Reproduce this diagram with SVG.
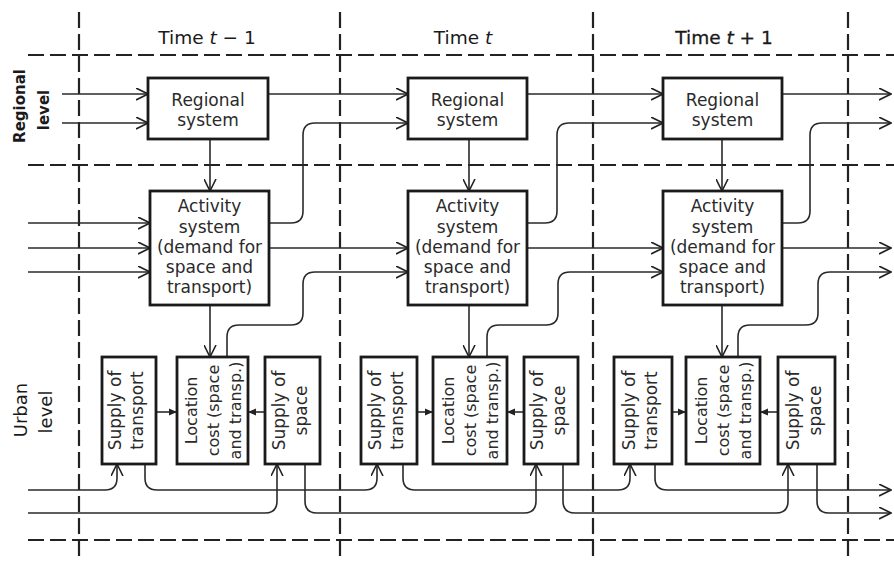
<svg xmlns="http://www.w3.org/2000/svg" width="894" height="562" viewBox="0 0 894 562">
<defs>
<style>
.grid{stroke:#222;stroke-width:2.2;stroke-dasharray:16 6;fill:none}
.box{fill:#fff;stroke:#1a1a1a;stroke-width:2.8}
.c{fill:none;stroke:#2a2a2a;stroke-width:1.6;marker-end:url(#ah)}
.cs{fill:none;stroke:#2a2a2a;stroke-width:1.6;marker-end:url(#as)}
.t{font-family:"DejaVu Sans","Liberation Sans",sans-serif;font-size:17px;fill:#2a2a2a;text-anchor:middle}
.u{font-family:"DejaVu Sans","Liberation Sans",sans-serif;font-size:17px;fill:#2a2a2a;text-anchor:middle}
.l{font-family:"DejaVu Sans","Liberation Sans",sans-serif;font-size:16px;fill:#2a2a2a;text-anchor:middle}
.h{font-family:"DejaVu Sans","Liberation Sans",sans-serif;font-size:18.5px;fill:#1a1a1a;text-anchor:middle}
.lv{font-family:"DejaVu Sans","Liberation Sans",sans-serif;fill:#1a1a1a;text-anchor:middle}
</style>
<marker id="ah" viewBox="0 0 13 13" refX="12" refY="6.5" markerWidth="13" markerHeight="13" markerUnits="userSpaceOnUse" orient="auto"><path d="M0,0.5 L12,6.5 L0,12.5" fill="none" stroke="#222" stroke-width="1.6"/></marker>
<marker id="as" viewBox="0 0 8 8" refX="8" refY="4" markerWidth="8" markerHeight="8" markerUnits="userSpaceOnUse" orient="auto"><path d="M0,0.5 L8,4 L0,7.5 Z" fill="#222"/></marker>
</defs>
<rect width="894" height="562" fill="#fff"/>

<g id="grid">
<line class="grid" x1="28" y1="55" x2="894" y2="55"/>
<line class="grid" x1="28" y1="165" x2="894" y2="165"/>
<line class="grid" x1="28" y1="540" x2="894" y2="540"/>
<line class="grid" x1="79" y1="12" x2="79" y2="562"/>
<line class="grid" x1="340" y1="12" x2="340" y2="562"/>
<line class="grid" x1="593" y1="12" x2="593" y2="562"/>
<line class="grid" x1="848" y1="12" x2="848" y2="562"/>
</g>

<g id="headers">
<text class="h" x="207" y="44">Time <tspan font-style="italic">t</tspan> − 1</text>
<text class="h" x="463" y="44">Time <tspan font-style="italic">t</tspan></text>
<text class="h" x="724" y="44" stroke="#1a1a1a" stroke-width="0.3">Time <tspan font-style="italic">t</tspan> + 1</text>
<text class="lv" font-size="15" font-weight="bold" transform="translate(25,106) rotate(-90)">Regional</text>
<text class="lv" font-size="15" font-weight="bold" transform="translate(49,110) rotate(-90)">level</text>
<text class="lv" font-size="18" transform="translate(27,410) rotate(-90)">Urban</text>
<text class="lv" font-size="18" transform="translate(52,412) rotate(-90)">level</text>
</g>

<g id="connectors">
<path class="c" d="M62,94 H148"/>
<path class="c" d="M62,123 H148"/>
<path class="c" d="M268,94 H408"/>
<path class="c" d="M527,94 H663"/>
<path class="c" d="M782,94 H891"/>
<path class="c" d="M269,223 H291 Q303,223 303,211 V135 Q303,123 315,123 H408"/>
<path class="c" d="M527,223 H545 Q557,223 557,211 V135 Q557,123 569,123 H663"/>
<path class="c" d="M782,223 H798 Q810,223 810,211 V135 Q810,123 822,123 H891"/>
<path class="c" d="M28,223 H150"/>
<path class="c" d="M28,248 H150"/>
<path class="c" d="M28,272 H150"/>
<path class="c" d="M269,248 H408"/>
<path class="c" d="M527,248 H663"/>
<path class="c" d="M782,248 H891"/>
<path class="c" d="M227,357 V337 Q227,325 239,325 H291 Q303,325 303,313 V284 Q303,272 315,272 H408"/>
<path class="c" d="M487,357 V337 Q487,325 499,325 H546 Q558,325 558,313 V284 Q558,272 570,272 H663"/>
<path class="c" d="M738,357 V337 Q738,325 750,325 H806 Q818,325 818,313 V284 Q818,272 830,272 H891"/>
<path class="c" d="M210,139 V191"/>
<path class="c" d="M469,139 V191"/>
<path class="c" d="M722,139 V191"/>
<path class="c" d="M210,305 V357"/>
<path class="c" d="M469,305 V357"/>
<path class="c" d="M722,305 V357"/>
<path class="cs" d="M156,412 H177"/>
<path class="cs" d="M265,412 H248"/>
<path class="cs" d="M417,412 H433"/>
<path class="cs" d="M524,412 H507"/>
<path class="cs" d="M672,412 H686"/>
<path class="cs" d="M778,412 H760"/>
<path class="c" d="M28,490 H105 Q117,490 117,478 V464"/>
<path class="c" d="M28,513 H265 Q277,513 277,501 V464"/>
<path class="c" d="M145,464 V478 Q145,490 157,490 H365 Q377,490 377,478 V464"/>
<path class="c" d="M305,464 V501 Q305,513 317,513 H524 Q536,513 536,501 V464"/>
<path class="c" d="M403,464 V478 Q403,490 415,490 H618 Q630,490 630,478 V464"/>
<path class="c" d="M563,464 V501 Q563,513 575,513 H776 Q788,513 788,501 V464"/>
<path class="c" d="M655,464 V478 Q655,490 667,490 H891"/>
<path class="c" d="M817,464 V501 Q817,513 829,513 H891"/>
</g>

<g id="regional1"><rect class="box" x="148" y="78" width="120" height="61"/>
<text class="t" x="208" y="106">Regional</text><text class="t" x="208" y="126">system</text></g>
<g id="regional2"><rect class="box" x="408" y="78" width="119" height="61"/>
<text class="t" x="467.5" y="106">Regional</text><text class="t" x="467.5" y="126">system</text></g>
<g id="regional3"><rect class="box" x="663" y="78" width="119" height="61"/>
<text class="t" x="722.5" y="106">Regional</text><text class="t" x="722.5" y="126">system</text></g>

<g id="activity1"><rect class="box" x="150" y="191" width="119" height="114"/>
<text class="t" x="209.5" y="212">Activity</text><text class="t" x="209.5" y="233">system</text><text class="t" x="209.5" y="253">(demand for</text><text class="t" x="209.5" y="273">space and</text><text class="t" x="209.5" y="293">transport)</text></g>
<g id="activity2"><rect class="box" x="408" y="191" width="119" height="114"/>
<text class="t" x="467.5" y="212">Activity</text><text class="t" x="467.5" y="233">system</text><text class="t" x="467.5" y="253">(demand for</text><text class="t" x="467.5" y="273">space and</text><text class="t" x="467.5" y="293">transport)</text></g>
<g id="activity3"><rect class="box" x="663" y="191" width="119" height="114"/>
<text class="t" x="722.5" y="212">Activity</text><text class="t" x="722.5" y="233">system</text><text class="t" x="722.5" y="253">(demand for</text><text class="t" x="722.5" y="273">space and</text><text class="t" x="722.5" y="293">transport)</text></g>

<g id="transport1"><rect class="box" x="102" y="357" width="54" height="107"/>
<g transform="translate(129,410.5) rotate(-90)"><text class="u" x="0" y="-8">Supply of</text><text class="u" x="0" y="14">transport</text></g></g>
<g id="location1"><rect class="box" x="177" y="357" width="71" height="107"/>
<g transform="translate(212.5,410.5) rotate(-90)"><text class="l" x="0" y="-16">Location</text><text class="l" x="0" y="6">cost (space</text><text class="l" x="0" y="28">and transp.)</text></g></g>
<g id="space1"><rect class="box" x="265" y="357" width="55" height="107"/>
<g transform="translate(292.5,410.5) rotate(-90)"><text class="u" x="0" y="-8">Supply of</text><text class="u" x="0" y="14">space</text></g></g>

<g id="transport2"><rect class="box" x="361" y="357" width="56" height="107"/>
<g transform="translate(389,410.5) rotate(-90)"><text class="u" x="0" y="-8">Supply of</text><text class="u" x="0" y="14">transport</text></g></g>
<g id="location2"><rect class="box" x="433" y="357" width="74" height="107"/>
<g transform="translate(470,410.5) rotate(-90)"><text class="l" x="0" y="-16">Location</text><text class="l" x="0" y="6">cost (space</text><text class="l" x="0" y="28">and transp.)</text></g></g>
<g id="space2"><rect class="box" x="524" y="357" width="54" height="107"/>
<g transform="translate(551,410.5) rotate(-90)"><text class="u" x="0" y="-8">Supply of</text><text class="u" x="0" y="14">space</text></g></g>

<g id="transport3"><rect class="box" x="614" y="357" width="58" height="107"/>
<g transform="translate(643,410.5) rotate(-90)"><text class="u" x="0" y="-8">Supply of</text><text class="u" x="0" y="14">transport</text></g></g>
<g id="location3"><rect class="box" x="686" y="357" width="74" height="107"/>
<g transform="translate(723,410.5) rotate(-90)"><text class="l" x="0" y="-16">Location</text><text class="l" x="0" y="6">cost (space</text><text class="l" x="0" y="28">and transp.)</text></g></g>
<g id="space3"><rect class="box" x="778" y="357" width="57" height="107"/>
<g transform="translate(806.5,410.5) rotate(-90)"><text class="u" x="0" y="-8">Supply of</text><text class="u" x="0" y="14">space</text></g></g>
</svg>
